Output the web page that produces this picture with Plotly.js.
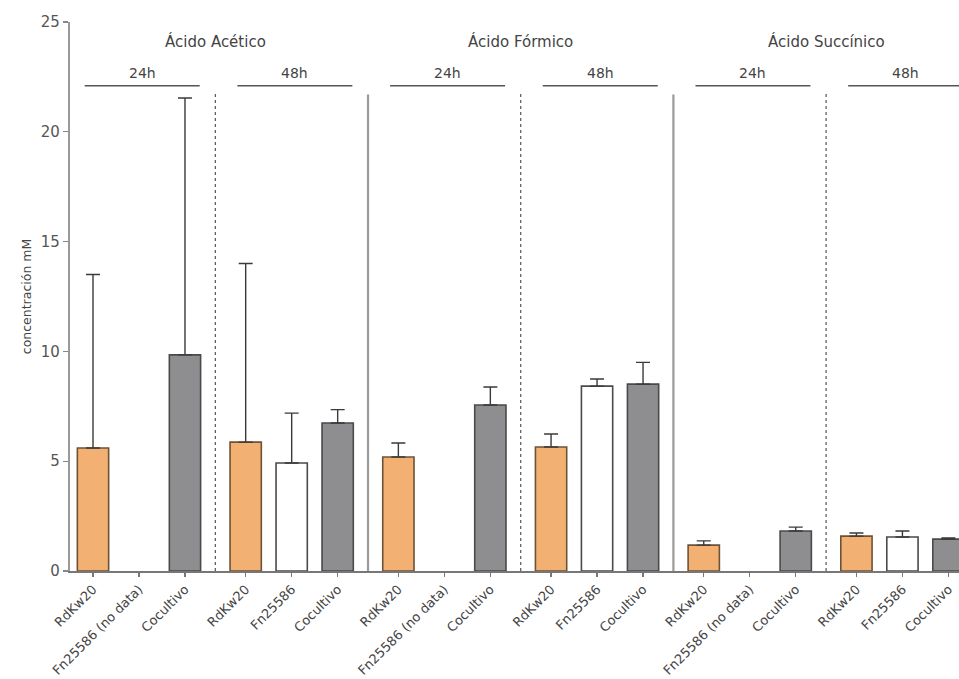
<!DOCTYPE html>
<html>
<head>
<meta charset="utf-8">
<script src="https://cdn.plot.ly/plotly-3.0.1.min.js"></script>
<style>
  html, body { margin: 0; padding: 0; background: #fff; }
  #chart { width: 959px; height: 679px; }
</style>
</head>
<body>
<div id="chart"></div>
<script>
// Organic acid concentration (mM) by strain, time point and acid
const acids = ['Ácido Acético', 'Ácido Fórmico', 'Ácido Succínico'];
const times = ['24h', '48h'];
const strains = ['RdKw20', 'Fn25586', 'Cocultivo'];
const noDataLabel = 'Fn25586 (no data)';

// One value per acid/time block, in order: Acético 24h, 48h, Fórmico 24h, 48h, Succínico 24h, 48h
const rdkw20Mean = [5.6, 5.87, 5.19, 5.65, 1.18, 1.59];
const rdkw20Err  = [7.9, 8.13, 0.64, 0.59, 0.19, 0.14];
const fnMean     = [null, 4.92, null, 8.42, null, 1.55];
const fnErr      = [0, 2.27, 0, 0.32, 0, 0.27];
const cocMean    = [9.84, 6.74, 7.56, 8.51, 1.82, 1.45];
const cocErr     = [11.7, 0.61, 0.82, 0.99, 0.18, 0.05];

const yTicks = [0, 5, 10, 15, 20, 25];

// Layout helpers: each block holds three bar slots, blocks separated by a small gap
const BLOCK = 3.32;
const BAR_W = 0.68;
const nBlocks = acids.length * times.length;
const blockPos = (b, s) => b * BLOCK + s;

const fills = ['#F2B173', '#FFFFFF', '#8E8E91'];
const outlines = ['#6e5236', '#4a4a4a', '#4a4a4a'];
const means = [rdkw20Mean, fnMean, cocMean];
const errs = [rdkw20Err, fnErr, cocErr];

const traces = strains.map((name, s) => {
  const xs = [], ys = [], es = [];
  for (let b = 0; b < nBlocks; b++) {
    xs.push(blockPos(b, s));
    ys.push(means[s][b]);
    es.push(errs[s][b]);
  }
  return {
    type: 'bar',
    name: name,
    x: xs,
    y: ys,
    width: BAR_W,
    marker: { color: fills[s], line: { color: outlines[s], width: 1.6 } },
    error_y: {
      type: 'data', symmetric: false, array: es,
      arrayminus: es.map(() => 0),
      color: '#3a3a3a', thickness: 1.4, width: 7
    },
    hoverinfo: 'x+y'
  };
});

// Tick positions and labels for every slot
const tickVals = [], tickText = [];
for (let b = 0; b < nBlocks; b++) {
  strains.forEach((name, s) => {
    tickVals.push(blockPos(b, s));
    const empty = means[s][b] === null;
    tickText.push(empty ? noDataLabel : name);
  });
}

const shapes = [];
const annotations = [];
const textColor = '#444';
const font = 'DejaVu Sans, sans-serif';

for (let b = 0; b < nBlocks; b++) {
  const first = blockPos(b, 0), last = blockPos(b, 2);
  // time-point bracket
  shapes.push({
    type: 'line', xref: 'x', yref: 'y',
    x0: first - 0.18, x1: last + 0.32, y0: 22.1, y1: 22.1,
    line: { color: '#555', width: 1.5 }
  });
  annotations.push({
    xref: 'x', yref: 'y', x: (first + last) / 2 + 0.07, y: 22.7,
    text: times[b % 2], showarrow: false,
    font: { family: font, size: 14, color: textColor }
  });
  // separators between blocks
  if (b < nBlocks - 1) {
    const mid = (last + blockPos(b + 1, 0)) / 2;
    const betweenAcids = b % 2 === 1;
    shapes.push({
      type: 'line', xref: 'x', yref: 'y',
      x0: mid, x1: mid, y0: 0, y1: betweenAcids ? 21.7 : 21.8,
      line: betweenAcids
        ? { color: '#9a9a9a', width: 2.2 }
        : { color: '#555', width: 1.2, dash: 'dot' }
    });
  }
}

acids.forEach((acid, a) => {
  const x = (blockPos(a * 2, 0) + blockPos(a * 2 + 1, 2)) / 2;
  annotations.push({
    xref: 'x', yref: 'y', x: x, y: 24.1,
    text: acid, showarrow: false,
    font: { family: font, size: 15, color: textColor }
  });
});

const layout = {
  width: 959,
  height: 679,
  margin: { l: 70, r: 0, t: 22, b: 108 },
  paper_bgcolor: '#fff',
  plot_bgcolor: '#fff',
  showlegend: false,
  barmode: 'overlay',
  font: { family: font, color: textColor },
  xaxis: {
    range: [-0.5, 18.83],
    tickmode: 'array',
    tickvals: tickVals,
    ticktext: tickText,
    tickangle: -45,
    ticks: 'outside', ticklen: 4, tickcolor: '#777', tickwidth: 1.2,
    tickfont: { family: font, size: 13, color: textColor },
    showline: true, linecolor: '#777', linewidth: 1.6,
    showgrid: false, zeroline: false, fixedrange: true
  },
  yaxis: {
    range: [0, 25],
    tickmode: 'array',
    tickvals: yTicks,
    ticks: 'outside', ticklen: 5, tickcolor: '#888', tickwidth: 1.2,
    tickfont: { family: font, size: 15, color: '#555' },
    showline: true, linecolor: '#999', linewidth: 2.2,
    showgrid: false, zeroline: false,
    title: { text: 'concentración mM', standoff: 6,
             font: { family: font, size: 12.5, color: textColor } },
    fixedrange: true
  },
  shapes: shapes,
  annotations: annotations
};

Plotly.newPlot('chart', traces, layout, { displayModeBar: false, staticPlot: true });
</script>
</body>
</html>
